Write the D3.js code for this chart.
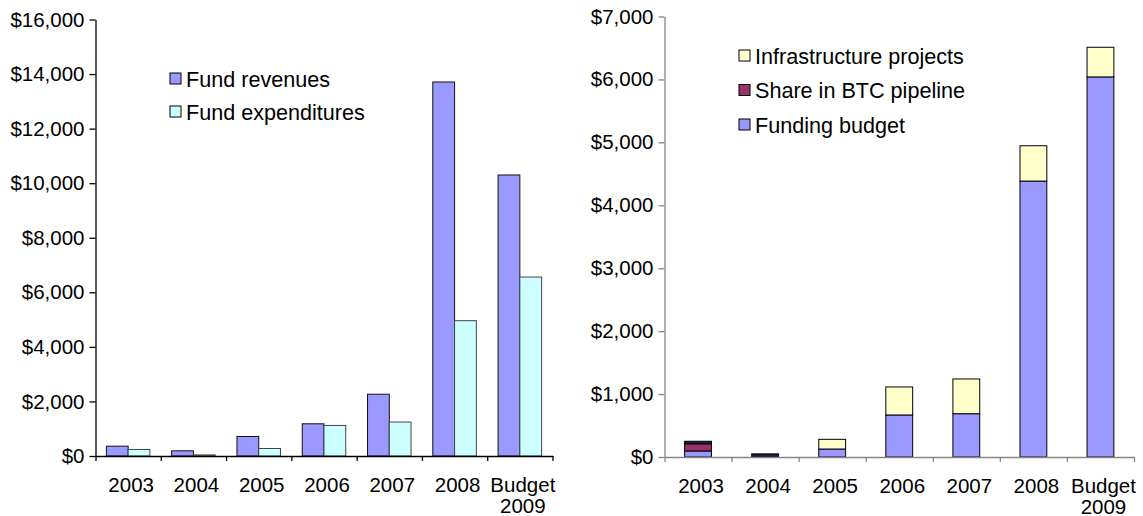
<!DOCTYPE html>
<html>
<head>
<meta charset="utf-8">
<script src="https://cdn.jsdelivr.net/npm/d3@7"></script>
<style>
  html, body { margin: 0; padding: 0; background: #fff; }
  svg { display: block; }
  text { font-family: "Liberation Sans", Arial, sans-serif; fill: #000; }
</style>
</head>
<body>
<svg id="chart" width="1143" height="516"></svg>
<script>
// ---------- Data ----------
const categories = ["2003", "2004", "2005", "2006", "2007", "2008", "Budget\n2009"];

// Left chart (grouped)
const fundRevenues     = [360, 190, 715, 1180, 2265, 13710, 10300];
const fundExpenditures = [240, 40, 275, 1120, 1245, 4960, 6560];
const leftSeriesNames  = ["Fund revenues", "Fund expenditures"];
const leftTicks        = [0, 2000, 4000, 6000, 8000, 10000, 12000, 14000, 16000];

// Right chart (stacked)
const fundingBudget    = [95, 0, 127, 668, 688, 4385, 6040];
const btcPipeline      = [115, 0, 0, 0, 0, 0, 0];
const otherUnlabeled   = [40, 50, 0, 0, 0, 0, 0];
const infrastructure   = [0, 0, 154, 445, 552, 561, 471];
const rightSeriesNames = ["Funding budget", "Share in BTC pipeline", "Other", "Infrastructure projects"];
const rightLegendNames = ["Infrastructure projects", "Share in BTC pipeline", "Funding budget"];
const rightTicks       = [0, 1000, 2000, 3000, 4000, 5000, 6000, 7000];

// ---------- Styles ----------
const FONT = 20.5;
const LEGEND_FONT = 21.6;
const leftColors  = { "Fund revenues": "#9999FF", "Fund expenditures": "#CCFFFF" };
const leftStroke  = { "Fund revenues": "#111", "Fund expenditures": "#444" };
const rightColors = { "Funding budget": "#9999FF", "Share in BTC pipeline": "#993366",
                      "Other": "#1f1f3d", "Infrastructure projects": "#FFFFCC" };

const svg = d3.select("#chart");
const fmt = v => "$" + d3.format(",")(v);

function drawXAxis(g, x, y0, color) {
  const n = categories.length;
  const edges = d3.scaleLinear().domain([0, n]).range(x.range());
  const ax = g.append("g").attr("transform", `translate(0,${y0})`)
    .call(d3.axisBottom(edges).tickValues(d3.range(n + 1)).tickFormat("").tickSize(5).tickSizeOuter(0));
  ax.selectAll("path, line").attr("stroke", color).attr("stroke-width", 1.3);
  categories.forEach(c => {
    const lines = c.split("\n");
    const cx = x(c) + x.bandwidth() / 2 + 3;
    const t = g.append("text")
      .attr("text-anchor", "middle")
      .attr("font-size", FONT)
      .attr("x", cx)
      .attr("y", y0 + 35.5);
    lines.forEach((ln, i) => t.append("tspan")
      .attr("x", cx)
      .attr("dy", i === 0 ? 0 : 21)
      .text(ln));
  });
}

function drawYAxis(g, y, x0, ticks, color) {
  const ax = g.append("g").attr("transform", `translate(${x0},0)`)
    .call(d3.axisLeft(y).tickValues(ticks).tickFormat(fmt).tickSize(6).tickPadding(5).tickSizeOuter(0));
  ax.selectAll("path, line").attr("stroke", color).attr("stroke-width", 1.3);
  ax.selectAll("text").attr("font-size", FONT).attr("font-family", "Liberation Sans, Arial, sans-serif").attr("fill", "#000");
}

// ---------- Left chart ----------
{
  const g = svg.append("g");
  const x = d3.scaleBand().domain(categories).range([95.5, 552.5]).padding(0);
  const x1 = d3.scaleBand().domain(leftSeriesNames).range([0, x.bandwidth()]).paddingInner(0).paddingOuter(0.5);
  const y = d3.scaleLinear().domain([0, 16000]).range([456, 19.5]);
  const data = categories.map((c, i) => ({ c, vals: { "Fund revenues": fundRevenues[i], "Fund expenditures": fundExpenditures[i] } }));

  const grp = g.selectAll("g.cat").data(data).join("g").attr("transform", d => `translate(${x(d.c)},0)`);
  grp.selectAll("rect").data(d => leftSeriesNames.map(s => ({ s, v: d.vals[s] }))).join("rect")
    .attr("x", d => x1(d.s))
    .attr("width", x1.bandwidth())
    .attr("y", d => y(d.v))
    .attr("height", d => y(0) - y(d.v))
    .attr("fill", d => leftColors[d.s])
    .attr("stroke", d => leftStroke[d.s])
    .attr("stroke-width", 1);

  drawYAxis(g, y, 95.5, leftTicks, "#000");
  drawXAxis(g, x, 456, "#000");

  // legend
  const lg = g.append("g").attr("transform", "translate(170,73)");
  leftSeriesNames.forEach((s, i) => {
    const row = lg.append("g").attr("transform", `translate(0,${i * 33})`);
    row.append("rect").attr("width", 11).attr("height", 11)
      .attr("fill", leftColors[s]).attr("stroke", "#000").attr("stroke-width", 1);
    row.append("text").attr("x", 16).attr("y", 13.5).attr("font-size", LEGEND_FONT).text(s);
  });
}

// ---------- Right chart ----------
{
  const g = svg.append("g");
  const x = d3.scaleBand().domain(categories).range([664.5, 1134]).padding(0);
  const y = d3.scaleLinear().domain([0, 7000]).range([457, 16.5]);
  const rows = categories.map((c, i) => ({
    c,
    "Funding budget": fundingBudget[i],
    "Share in BTC pipeline": btcPipeline[i],
    "Other": otherUnlabeled[i],
    "Infrastructure projects": infrastructure[i]
  }));
  const stack = d3.stack().keys(rightSeriesNames)(rows);
  const bw = x.bandwidth() * 0.4;

  g.selectAll("g.layer").data(stack).join("g")
    .attr("fill", d => rightColors[d.key])
    .selectAll("rect").data(d => d.filter(p => p[1] - p[0] > 0)).join("rect")
      .attr("x", d => x(d.data.c) + (x.bandwidth() - bw) / 2)
      .attr("width", bw)
      .attr("y", d => y(d[1]))
      .attr("height", d => y(d[0]) - y(d[1]))
      .attr("stroke", "#000")
      .attr("stroke-width", 1);

  drawYAxis(g, y, 664.5, rightTicks, "#868686");
  drawXAxis(g, x, 457, "#868686");

  const lg = g.append("g").attr("transform", "translate(739,50)");
  rightLegendNames.forEach((s, i) => {
    const row = lg.append("g").attr("transform", `translate(0,${i * 34.5})`);
    row.append("rect").attr("width", 11).attr("height", 11)
      .attr("fill", rightColors[s]).attr("stroke", "#000").attr("stroke-width", 1);
    row.append("text").attr("x", 16).attr("y", 13.5).attr("font-size", LEGEND_FONT).text(s);
  });
}
</script>
</body>
</html>
